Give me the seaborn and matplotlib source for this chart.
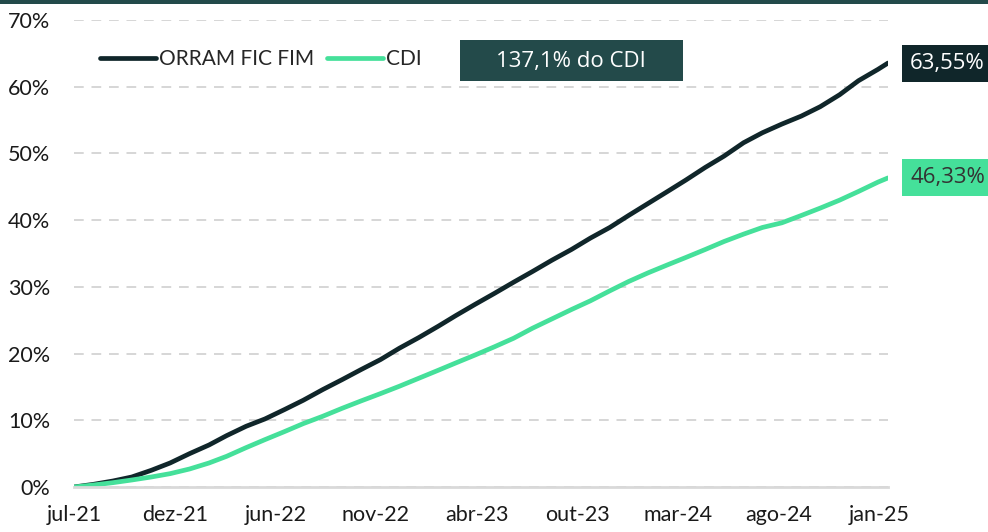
import pandas as pd
import numpy as np
import matplotlib.pyplot as plt
import matplotlib.patches as mpatches
import seaborn as sns

# monthly points, jul-21 -> jan-25, plus last observation
dates = list(pd.date_range("2021-07-01", "2025-01-01", freq="MS")) + [pd.Timestamp("2025-01-17")]
orram = [0.0, 0.4, 0.9, 1.5, 2.5, 3.6, 5.0, 6.3, 7.7, 9.1, 10.2, 11.6, 13.0, 14.6, 16.1,
         17.6, 19.1, 20.8, 22.4, 24.1, 25.7, 27.4, 29.0, 30.7, 32.3, 34.0, 35.6, 37.3,
         38.9, 40.7, 42.5, 44.3, 46.0, 47.9, 49.6, 51.6, 53.1, 54.4, 55.6, 57.0, 58.8,
         60.9, 62.6, 63.55]
cdi = [0.0, 0.3, 0.65, 1.05, 1.5, 2.0, 2.7, 3.6, 4.6, 5.9, 7.1, 8.3, 9.5, 10.6, 11.8,
       12.9, 14.0, 15.1, 16.3, 17.5, 18.6, 19.8, 21.0, 22.3, 23.8, 25.2, 26.6, 27.9,
       29.4, 30.8, 32.1, 33.3, 34.4, 35.6, 36.8, 37.9, 38.9, 39.6, 40.7, 41.8, 43.0,
       44.3, 45.7, 46.33]
series_names = ["ORRAM FIC FIM", "CDI"]
end_labels = ["63,55%", "46,33%"]
badge_text = "137,1% do CDI"
tick_labels = ["jul-21", "dez-21", "jun-22", "nov-22", "abr-23", "out-23", "mar-24", "ago-24", "jan-25"]
y_ticks = [0, 10, 20, 30, 40, 50, 60, 70]

dark = "#10262a"
green = "#45e09a"
teal = "#234a4a"
box_font = ["Open Sans", "DejaVu Sans"]

df = pd.DataFrame({
    "data": dates * 2,
    "valor": orram + cdi,
    "serie": [series_names[0]] * len(dates) + [series_names[1]] * len(dates),
})

sns.set_style("white")
plt.rcParams["font.family"] = ["Lato", "DejaVu Sans"]

fig = plt.figure(figsize=(9.88, 5.32), dpi=100)
ax = fig.add_axes([74 / 988, 45 / 532, 814 / 988, 467 / 532])

sns.lineplot(data=df, x="data", y="valor", hue="serie", palette=[dark, green],
             linewidth=3.4, ax=ax, legend=True)

ax.set_xlim(dates[0], dates[-1])
ax.set_ylim(0, 70)
ax.set_yticks(y_ticks)
ax.set_yticklabels([f"{v}%" for v in y_ticks])
tick_dates = pd.date_range(dates[0], "2025-01-03", periods=len(tick_labels))
ax.set_xticks(tick_dates)
ax.set_xticklabels(tick_labels)
ax.tick_params(axis="y", labelsize=15.5, pad=17, length=0, colors="#1a1a1a")
ax.tick_params(axis="x", labelsize=15.5, pad=13, length=0, colors="#1a1a1a")
ax.set_xlabel("")
ax.set_ylabel("")

ax.grid(axis="y", linestyle=(0, (5, 4)), color="#d6d6d6", linewidth=1.4)
ax.grid(axis="x", visible=False)
for s in ["top", "right", "left"]:
    ax.spines[s].set_visible(False)
ax.spines["bottom"].set_color("#d9d9d9")
ax.spines["bottom"].set_linewidth(2)
ax.set_axisbelow(True)

handles, labels = ax.get_legend_handles_labels()
ax.legend(handles, labels, loc="center left", bbox_to_anchor=(100 / 988, 1 - 59 / 532),
          bbox_transform=fig.transFigure, ncol=2, frameon=False, fontsize=15,
          handlelength=2.7, handletextpad=0.15, columnspacing=0.6, borderpad=0,
          borderaxespad=0)

# end-of-line value labels
for vals, txt, fc, tc in [(orram, end_labels[0], dark, "white"), (cdi, end_labels[1], green, "#333333")]:
    ax.annotate(txt, xy=(dates[-1], vals[-1]), xytext=(16, 0), textcoords="offset points",
                ha="left", va="center", fontsize=16, color=tc, family=box_font,
                bbox=dict(boxstyle="square,pad=0.36", fc=fc, ec="none"), annotation_clip=False)

# ratio badge
fig.patches.append(mpatches.Rectangle((460 / 988, 1 - 81 / 532), 223 / 988, 41 / 532,
                                      transform=fig.transFigure, fc=teal, ec="none", zorder=3))
fig.text(571 / 988, 1 - 61 / 532, badge_text, ha="center", va="center", fontsize=16,
         color="white", family=box_font, zorder=4)

# top band
fig.patches.append(mpatches.Rectangle((0, 1 - 4 / 532), 1, 4 / 532, transform=fig.transFigure,
                                      fc=teal, ec="none"))

fig.savefig("out.png", dpi=100)
